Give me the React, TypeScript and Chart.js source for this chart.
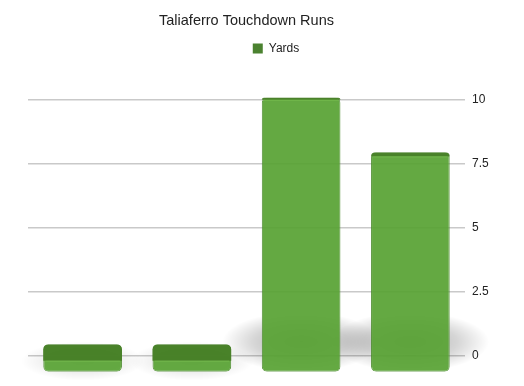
import React, { useEffect, useRef } from "react";
import { Chart, registerables } from "chart.js";

Chart.register(...registerables);

const categories = ["Run 1", "Run 2", "Run 3", "Run 4"];
const yardsValues = [1, 1, 10, 8];
const yTickValues = [0, 2.5, 5, 7.5, 10];
const seriesLabel = "Yards";
const chartTitle = "Taliaferro Touchdown Runs";

const FONT = "'Liberation Sans', Arial, Helvetica, sans-serif";
const GRID_PX_PER_UNIT = 25.6;
const BAR_PX_PER_UNIT = 27.4;
const GRID_MIN = -0.625;

const barDecor = {
  id: "barDecor",
  beforeDatasetsDraw(chart: any) {
    const ctx = chart.ctx;
    const meta = chart.getDatasetMeta(0);
    ctx.save();
    meta.data.forEach((el: any) => {
      const h = el.base - el.y;
      const k = Math.min(1, h / 220);
      const cx = el.x;
      const cy = el.base - 8 - 22 * k;
      const rx = el.width * (0.75 + 0.25 * k);
      const ry = 18 + 12 * k;
      const g = ctx.createRadialGradient(cx, cy, 0, cx, cy, rx);
      const a = 0.1 + 0.22 * k;
      g.addColorStop(0, `rgba(0,0,0,${a})`);
      g.addColorStop(0.6, `rgba(0,0,0,${a * 0.5})`);
      g.addColorStop(1, "rgba(0,0,0,0)");
      ctx.save();
      ctx.translate(cx, cy);
      ctx.scale(1, ry / rx);
      ctx.translate(-cx, -cy);
      ctx.fillStyle = g;
      ctx.beginPath();
      ctx.arc(cx, cy, rx, 0, Math.PI * 2);
      ctx.fill();
      ctx.restore();
    });
    ctx.restore();
  },
  afterDatasetsDraw(chart: any) {
    const ctx = chart.ctx;
    const meta = chart.getDatasetMeta(0);
    const top = chart.chartArea.top;
    ctx.save();
    meta.data.forEach((el: any) => {
      const w = el.width;
      const x = el.x - w / 2;
      const faceH = Math.max(2, (el.y - top - 30) * 0.065);
      ctx.fillStyle = "rgba(72,128,40,0.95)";
      ctx.beginPath();
      (ctx as any).roundRect(x, el.y, w, faceH, [5, 5, 0, 0]);
      ctx.fill();
      ctx.strokeStyle = "rgba(120,190,80,0.8)";
      ctx.lineWidth = 1;
      ctx.beginPath();
      ctx.moveTo(x + 2, el.y + faceH + 0.5);
      ctx.lineTo(x + w - 2, el.y + faceH + 0.5);
      ctx.stroke();
    });
    ctx.restore();
  },
};

export default function App() {
  const canvasRef = useRef<HTMLCanvasElement | null>(null);

  useEffect(() => {
    if (!canvasRef.current) return;
    const chart = new Chart(canvasRef.current, {
      type: "bar",
      data: {
        labels: categories,
        datasets: [
          {
            label: seriesLabel,
            data: yardsValues,
            yAxisID: "yBar",
            backgroundColor: "rgba(88,163,52,0.93)",
            borderColor: "rgba(70,135,40,0.9)",
            borderWidth: 1,
            borderRadius: 5,
            borderSkipped: false,
            barPercentage: 0.72,
            categoryPercentage: 1,
          },
        ],
      },
      options: {
        animation: false,
        responsive: true,
        maintainAspectRatio: false,
        layout: { padding: { left: 28, bottom: 14, top: 0, right: 0 } },
        plugins: {
          title: {
            display: true,
            text: chartTitle,
            fullSize: false,
            color: "#222",
            font: { family: FONT, size: 14.5, weight: "normal" },
            padding: { top: 12, bottom: 3 },
          },
          legend: {
            display: true,
            labels: {
              color: "#222",
              font: { family: FONT, size: 12 },
              boxWidth: 10,
              boxHeight: 10,
              generateLabels: (c: any) =>
                c.data.datasets.map((ds: any, i: number) => ({
                  text: ds.label,
                  fillStyle: "#4b8230",
                  strokeStyle: "#4b8230",
                  lineWidth: 0,
                  hidden: false,
                  datasetIndex: i,
                  fontColor: "#222",
                })),
            },
          },
          tooltip: { enabled: false },
        },
        scales: {
          x: { display: false },
          y: {
            position: "right",
            min: GRID_MIN,
            max: 11,
            grid: {
              color: "#c9c9c9",
              lineWidth: 1.5,
              drawTicks: false,
            },
            border: { display: false },
            ticks: {
              color: "#222",
              padding: 7,
              font: { family: FONT, size: 12 },
            },
            afterBuildTicks: (scale: any) => {
              scale.ticks = yTickValues.map((v) => ({ value: v }));
              const h = scale.height || scale.bottom - scale.top;
              scale.min = GRID_MIN;
              scale.max = GRID_MIN + h / GRID_PX_PER_UNIT;
            },
            afterFit: (scale: any) => {
              scale.width = 59;
            },
          },
          yBar: {
            display: false,
            position: "right",
            min: 0,
            max: 11,
            afterBuildTicks: (scale: any) => {
              const h = scale.height || scale.bottom - scale.top;
              scale.min = 0;
              scale.max = h / BAR_PX_PER_UNIT;
            },
          },
        },
      },
      plugins: [barDecor],
    } as any);
    return () => chart.destroy();
  }, []);

  return (
    <div style={{ position: "fixed", left: 0, top: 0, width: 524, height: 386, background: "#fff" }}>
      <canvas ref={canvasRef} />
    </div>
  );
}
